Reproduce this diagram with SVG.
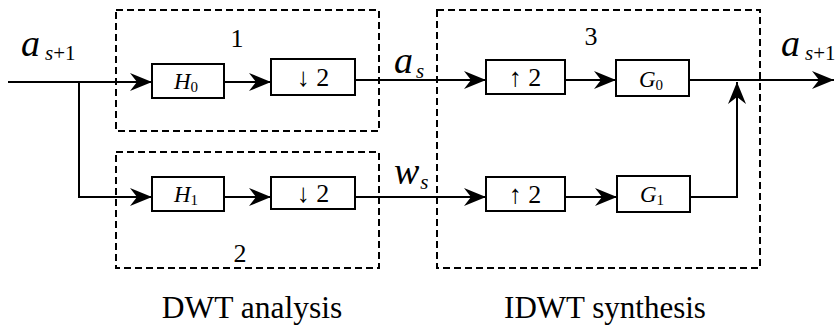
<svg xmlns="http://www.w3.org/2000/svg" width="836" height="327" viewBox="0 0 836 327" font-family="Liberation Serif, DejaVu Serif, Times New Roman, serif">
<style>
.box{fill:#fff;stroke:#000;stroke-width:2}
.grp{fill:none;stroke:#000;stroke-width:2;stroke-dasharray:7 4}
.ln{fill:none;stroke:#000;stroke-width:2}
.i{font-style:italic}
</style>
<defs>
<marker id="ah" markerUnits="userSpaceOnUse" markerWidth="24" markerHeight="18" refX="22" refY="9" orient="auto" viewBox="0 0 24 18">
<path d="M0,0 L22,9 L0,18 L7,9 z" fill="#000"/>
</marker>
</defs>
<rect width="836" height="327" fill="#fff"/>
<g id="group1"><rect class="grp" x="116" y="10" width="263" height="121"/><text font-family="Liberation Serif" x="237" y="47" font-size="26" text-anchor="middle">1</text></g>
<g id="group2"><rect class="grp" x="116" y="152" width="263" height="116"/><text font-family="Liberation Serif" x="240" y="262" font-size="26" text-anchor="middle">2</text></g>
<g id="group3"><rect class="grp" x="437" y="10" width="323" height="258"/><text font-family="Liberation Serif" x="591" y="45" font-size="26" text-anchor="middle">3</text></g>
<g id="connectors">
<path class="ln" d="M8,82 H152" marker-end="url(#ah)"/>
<path class="ln" d="M79,82 V197 H152" marker-end="url(#ah)"/>
<path class="ln" d="M224,82 H271" marker-end="url(#ah)"/>
<path class="ln" d="M355,80 H486" marker-end="url(#ah)"/>
<path class="ln" d="M565,80 H616" marker-end="url(#ah)"/>
<path class="ln" d="M689,80 H834" marker-end="url(#ah)"/>
<path class="ln" d="M224,197 H271" marker-end="url(#ah)"/>
<path class="ln" d="M355,197 H486" marker-end="url(#ah)"/>
<path class="ln" d="M565,197 H617" marker-end="url(#ah)"/>
<path class="ln" d="M690,197 H737 V82" marker-end="url(#ah)"/>
</g>
<g id="H0"><rect class="box" x="152" y="64" width="72" height="34"/><text font-family="Liberation Serif" x="186" y="89" font-size="23" text-anchor="middle"><tspan class="i">H</tspan><tspan font-size="15" dy="3">0</tspan></text></g>
<g id="down1"><rect class="box" x="271" y="59" width="84" height="36"/><text font-family="Liberation Serif" x="313" y="86" font-size="26" text-anchor="middle">↓ 2</text></g>
<g id="up1"><rect class="box" x="486" y="60" width="79" height="34"/><text font-family="Liberation Serif" x="525" y="86" font-size="26" text-anchor="middle">↑ 2</text></g>
<g id="G0"><rect class="box" x="616" y="60" width="73" height="36"/><text font-family="Liberation Serif" x="651" y="87" font-size="23" text-anchor="middle"><tspan class="i">G</tspan><tspan font-size="15" dy="3">0</tspan></text></g>
<g id="H1"><rect class="box" x="152" y="177" width="72" height="34"/><text font-family="Liberation Serif" x="186" y="202" font-size="23" text-anchor="middle"><tspan class="i">H</tspan><tspan font-size="15" dy="3">1</tspan></text></g>
<g id="down2"><rect class="box" x="271" y="177" width="84" height="32"/><text font-family="Liberation Serif" x="313" y="202" font-size="26" text-anchor="middle">↓ 2</text></g>
<g id="up2"><rect class="box" x="486" y="177" width="79" height="34"/><text font-family="Liberation Serif" x="525" y="203" font-size="26" text-anchor="middle">↑ 2</text></g>
<g id="G1"><rect class="box" x="617" y="176" width="73" height="36"/><text font-family="Liberation Serif" x="652" y="202" font-size="23" text-anchor="middle"><tspan class="i">G</tspan><tspan font-size="15" dy="3">1</tspan></text></g>
<g id="labels">
<text font-family="Liberation Serif" x="21" y="56" font-size="38"><tspan class="i">a</tspan><tspan font-size="21" dy="4" dx="5"><tspan class="i">s</tspan>+1</tspan></text>
<text font-family="Liberation Serif" x="394" y="73" font-size="38"><tspan class="i">a</tspan><tspan class="i" font-size="21" dy="5" dx="3">s</tspan></text>
<text font-family="Liberation Serif" x="781" y="56" font-size="38"><tspan class="i">a</tspan><tspan font-size="21" dy="4" dx="5"><tspan class="i">s</tspan>+1</tspan></text>
<text font-family="Liberation Serif" x="394" y="184" font-size="38"><tspan class="i">w</tspan><tspan class="i" font-size="21" dy="5" dx="1">s</tspan></text>
<text font-family="Liberation Serif" x="252" y="318" font-size="31.5" text-anchor="middle">DWT analysis</text>
<text font-family="Liberation Serif" x="605" y="318" font-size="31" text-anchor="middle">IDWT synthesis</text>
</g>
</svg>
